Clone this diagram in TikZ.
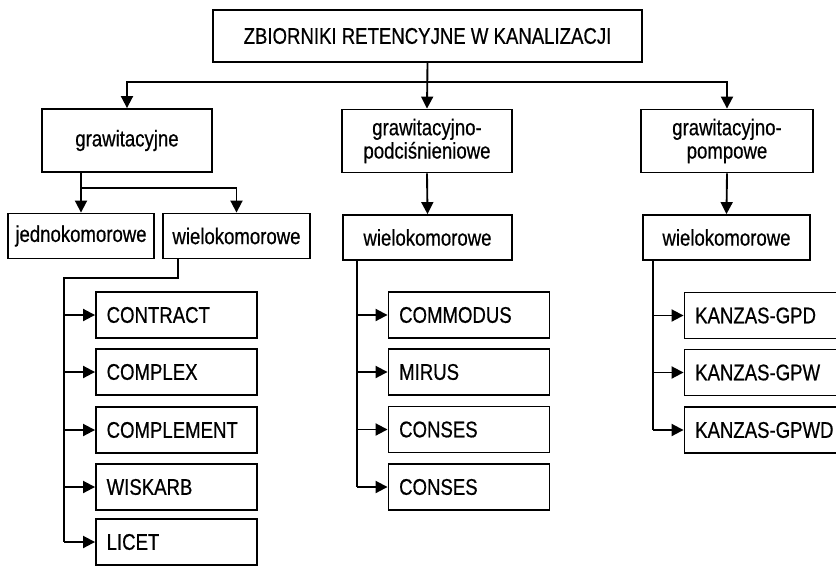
\documentclass[tikz,border=0pt]{standalone}
\usepackage{fontspec}
\setmainfont{Liberation Sans}[FakeStretch=0.82, FakeBold=0.6]
\usetikzlibrary{arrows.meta}

\tikzset{
  box/.style={rectangle, draw, line width=1.4pt, inner sep=0pt, align=center,
    font=\fontsize{17}{17.5}\selectfont},
  leaf/.style={box, minimum height=34.5pt, text width=104.75pt, inner xsep=8pt, align=left},
  wire/.style={line width=1.4pt},
  arr/.style={wire, -{Triangle[length=9pt,width=9pt]}}
}

\begin{document}
\begin{tikzpicture}[x=0.75pt, y=-0.75pt]
  \useasboundingbox (0,0) rectangle (836,565);
  \clip (0,0) rectangle (836,565);

  \node[box, minimum width=321.75pt, minimum height=39pt] (root) at (427.5,36) {ZBIORNIKI RETENCYJNE W KANALIZACJI};

  \node[box, minimum width=127.5pt, minimum height=47.25pt] (grav) at (127,140.5) {grawitacyjne};
  \node[box, minimum width=127.5pt, minimum height=47.25pt] (podc) at (427,141) {grawitacyjno-\\podciśnieniowe};
  \node[box, minimum width=129pt, minimum height=47.25pt] (pomp) at (727,141) {grawitacyjno-\\pompowe};

  \node[box, minimum width=109.5pt, minimum height=33.75pt] (jedn) at (81,236) {jednokomorowe};
  \node[box, minimum width=110.25pt, minimum height=33.75pt] (wielA) at (236.5,236) {wielokomorowe};
  \node[box, minimum width=126.75pt, minimum height=33.75pt] (wielB) at (427.5,237.5) {wielokomorowe};
  \node[box, minimum width=125.25pt, minimum height=33.75pt] (wielC) at (726.5,237.5) {wielokomorowe};

  \node[leaf] (contract) at (176.5,315) {CONTRACT};
  \node[leaf] (complex) at (176.5,372) {COMPLEX};
  \node[leaf] (complement) at (176.5,430) {COMPLEMENT};
  \node[leaf] (wiskarb) at (176.5,487) {WISKARB};
  \node[leaf] (licet) at (176.5,542) {LICET};

  \node[leaf] (commodus) at (469,315) {COMMODUS};
  \node[leaf] (mirus) at (469,372) {MIRUS};
  \node[leaf] (consesA) at (469,429.5) {CONSES};
  \node[leaf] (consesB) at (469,487) {CONSES};

  \node[leaf] (gpd) at (765,315.5) {KANZAS-GPD};
  \node[leaf] (gpw) at (765,372.5) {KANZAS-GPW};
  \node[leaf] (gpwd) at (765,430) {KANZAS-GPWD};

  \coordinate (bus) at (427,82);
  \draw[arr] (root.south) -- (podc.north);
  \draw[arr] (bus) -| (grav.north);
  \draw[arr] (bus) -| (pomp.north);

  \coordinate (gbus) at (81,188);
  \draw[arr] (grav.south -| gbus) -- (jedn.north);
  \draw[arr] (gbus) -| (wielA.north);
  \draw[arr] (podc.south) -- (wielB.north);
  \draw[arr] (pomp.south) -- (wielC.north);

  \coordinate (lstem) at (178,278);
  \coordinate (ltrunk) at (64,278);
  \draw[wire] (wielA.south -| lstem) -- (lstem) -- (ltrunk) -- (ltrunk |- licet.west);
  \foreach \n in {contract,complex,complement,wiskarb,licet}
    \draw[arr] (ltrunk |- \n.west) -- (\n.west);

  \coordinate (mtrunk) at (357,0);
  \draw[wire] (wielB.south -| mtrunk) -- (mtrunk |- consesB.west);
  \foreach \n in {commodus,mirus,consesA,consesB}
    \draw[arr] (mtrunk |- \n.west) -- (\n.west);

  \coordinate (rtrunk) at (653,0);
  \draw[wire] (wielC.south -| rtrunk) -- (rtrunk |- gpwd.west);
  \foreach \n in {gpd,gpw,gpwd}
    \draw[arr] (rtrunk |- \n.west) -- (\n.west);
\end{tikzpicture}
\end{document}
